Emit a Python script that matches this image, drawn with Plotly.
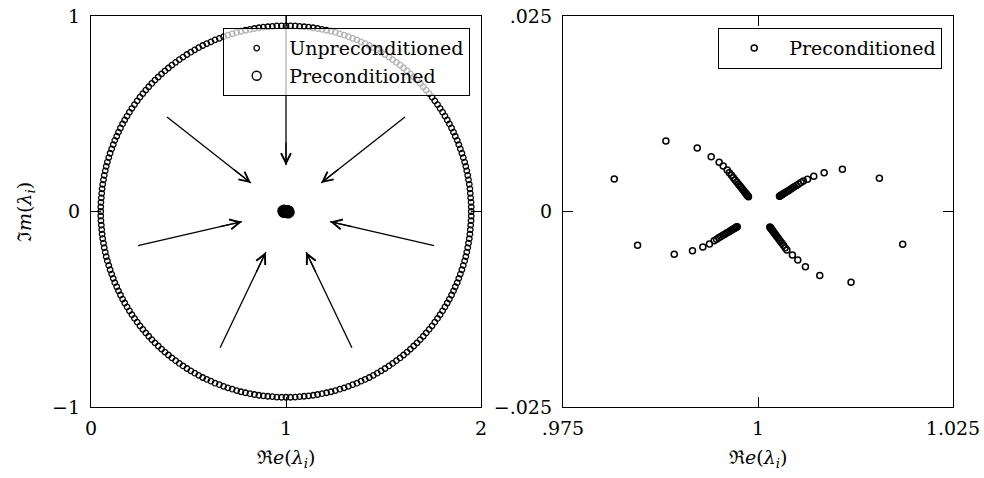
import math
import plotly.graph_objects as go

# ---------------------------------------------------------------------------
# Spectrum of the unpreconditioned operator (real / imaginary parts)
# ---------------------------------------------------------------------------
unpre_re = [
    1.950, 1.950, 1.949, 1.947, 1.945, 1.943, 1.940, 1.936, 1.932, 1.927,
    1.922, 1.916, 1.909, 1.902, 1.894, 1.886, 1.878, 1.868, 1.859, 1.849,
    1.838, 1.827, 1.815, 1.803, 1.790, 1.777, 1.763, 1.749, 1.734, 1.719,
    1.704, 1.688, 1.672, 1.655, 1.638, 1.621, 1.603, 1.585, 1.566, 1.547,
    1.528, 1.508, 1.488, 1.468, 1.448, 1.427, 1.406, 1.385, 1.364, 1.342,
    1.320, 1.298, 1.276, 1.253, 1.231, 1.208, 1.185, 1.162, 1.139, 1.116,
    1.093, 1.070, 1.047, 1.023, 1.000,
    0.977, 0.953, 0.930, 0.907, 0.884, 0.861, 0.838, 0.815, 0.792, 0.769,
    0.747, 0.724, 0.702, 0.680, 0.658, 0.636, 0.615, 0.594, 0.573, 0.552,
    0.532, 0.512, 0.492, 0.472, 0.453, 0.434, 0.415, 0.397, 0.379, 0.362,
    0.345, 0.328, 0.312, 0.296, 0.281, 0.266, 0.251, 0.237, 0.223, 0.210,
    0.197, 0.185, 0.173, 0.162, 0.151, 0.141, 0.132, 0.122, 0.114, 0.106,
    0.098, 0.091, 0.084, 0.078, 0.073, 0.068, 0.064, 0.060, 0.057, 0.055,
    0.053, 0.051, 0.050, 0.050,
    0.050, 0.051, 0.053, 0.055, 0.057, 0.060, 0.064, 0.068, 0.073, 0.078,
    0.084, 0.091, 0.098, 0.106, 0.114, 0.122, 0.132, 0.141, 0.151, 0.162,
    0.173, 0.185, 0.197, 0.210, 0.223, 0.237, 0.251, 0.266, 0.281, 0.296,
    0.312, 0.328, 0.345, 0.362, 0.379, 0.397, 0.415, 0.434, 0.453, 0.472,
    0.492, 0.512, 0.532, 0.552, 0.573, 0.594, 0.615, 0.636, 0.658, 0.680,
    0.702, 0.724, 0.747, 0.769, 0.792, 0.815, 0.838, 0.861, 0.884, 0.907,
    0.930, 0.953, 0.977, 1.000,
    1.023, 1.047, 1.070, 1.093, 1.116, 1.139, 1.162, 1.185, 1.208, 1.231,
    1.253, 1.276, 1.298, 1.320, 1.342, 1.364, 1.385, 1.406, 1.427, 1.448,
    1.468, 1.488, 1.508, 1.528, 1.547, 1.566, 1.585, 1.603, 1.621, 1.638,
    1.655, 1.672, 1.688, 1.704, 1.719, 1.734, 1.749, 1.763, 1.777, 1.790,
    1.803, 1.815, 1.827, 1.838, 1.849, 1.859, 1.868, 1.878, 1.886, 1.894,
    1.902, 1.909, 1.916, 1.922, 1.927, 1.932, 1.936, 1.940, 1.943, 1.945,
    1.947, 1.949, 1.950,
]
unpre_im = [
    0.000, 0.023, 0.047, 0.070, 0.093, 0.116, 0.139, 0.162, 0.185, 0.208,
    0.231, 0.253, 0.276, 0.298, 0.320, 0.342, 0.364, 0.385, 0.406, 0.427,
    0.448, 0.468, 0.488, 0.508, 0.528, 0.547, 0.566, 0.585, 0.603, 0.621,
    0.638, 0.655, 0.672, 0.688, 0.704, 0.719, 0.734, 0.749, 0.763, 0.777,
    0.790, 0.803, 0.815, 0.827, 0.838, 0.849, 0.859, 0.868, 0.878, 0.886,
    0.894, 0.902, 0.909, 0.916, 0.922, 0.927, 0.932, 0.936, 0.940, 0.943,
    0.945, 0.947, 0.949, 0.950, 0.950,
    0.950, 0.949, 0.947, 0.945, 0.943, 0.940, 0.936, 0.932, 0.927, 0.922,
    0.916, 0.909, 0.902, 0.894, 0.886, 0.878, 0.868, 0.859, 0.849, 0.838,
    0.827, 0.815, 0.803, 0.790, 0.777, 0.763, 0.749, 0.734, 0.719, 0.704,
    0.688, 0.672, 0.655, 0.638, 0.621, 0.603, 0.585, 0.566, 0.547, 0.528,
    0.508, 0.488, 0.468, 0.448, 0.427, 0.406, 0.385, 0.364, 0.342, 0.320,
    0.298, 0.276, 0.253, 0.231, 0.208, 0.185, 0.162, 0.139, 0.116, 0.093,
    0.070, 0.047, 0.023, 0.000,
    -0.023, -0.047, -0.070, -0.093, -0.116, -0.139, -0.162, -0.185, -0.208, -0.231,
    -0.253, -0.276, -0.298, -0.320, -0.342, -0.364, -0.385, -0.406, -0.427, -0.448,
    -0.468, -0.488, -0.508, -0.528, -0.547, -0.566, -0.585, -0.603, -0.621, -0.638,
    -0.655, -0.672, -0.688, -0.704, -0.719, -0.734, -0.749, -0.763, -0.777, -0.790,
    -0.803, -0.815, -0.827, -0.838, -0.849, -0.859, -0.868, -0.878, -0.886, -0.894,
    -0.902, -0.909, -0.916, -0.922, -0.927, -0.932, -0.936, -0.940, -0.943, -0.945,
    -0.947, -0.949, -0.950, -0.950,
    -0.950, -0.949, -0.947, -0.945, -0.943, -0.940, -0.936, -0.932, -0.927, -0.922,
    -0.916, -0.909, -0.902, -0.894, -0.886, -0.878, -0.868, -0.859, -0.849, -0.838,
    -0.827, -0.815, -0.803, -0.790, -0.777, -0.763, -0.749, -0.734, -0.719, -0.704,
    -0.688, -0.672, -0.655, -0.638, -0.621, -0.603, -0.585, -0.566, -0.547, -0.528,
    -0.508, -0.488, -0.468, -0.448, -0.427, -0.406, -0.385, -0.364, -0.342, -0.320,
    -0.298, -0.276, -0.253, -0.231, -0.208, -0.185, -0.162, -0.139, -0.116, -0.093,
    -0.070, -0.047, -0.023,
]

# ---------------------------------------------------------------------------
# Spectrum of the preconditioned operator (four branches around 1)
# ---------------------------------------------------------------------------
pre_re = [
    # upper-left branch
    0.98157, 0.98819, 0.99221, 0.99400, 0.99502, 0.99554, 0.99605, 0.99632,
    0.99660, 0.99684, 0.99706, 0.99728, 0.99747, 0.99766, 0.99782, 0.99799,
    0.99812, 0.99826, 0.99837, 0.99848, 0.99856, 0.99864, 0.99871, 0.99878,
    # upper-right branch
    1.01556, 1.01082, 1.00848, 1.00715, 1.00634, 1.00582, 1.00551, 1.00521,
    1.00493, 1.00465, 1.00441, 1.00416, 1.00395, 1.00373, 1.00355, 1.00336,
    1.00321, 1.00309, 1.00297, 1.00287, 1.00281, 1.00275,
    # lower-left branch
    0.98456, 0.98926, 0.99160, 0.99293, 0.99378, 0.99438, 0.99468, 0.99497,
    0.99524, 0.99550, 0.99574, 0.99597, 0.99618, 0.99639, 0.99656, 0.99674,
    0.99689, 0.99701, 0.99712, 0.99721, 0.99727, 0.99733,
    # lower-right branch
    1.01855, 1.01193, 1.00792, 1.00608, 1.00510, 1.00441, 1.00370, 1.00348,
    1.00326, 1.00307, 1.00289, 1.00272, 1.00257, 1.00241, 1.00228, 1.00215,
    1.00204, 1.00193, 1.00185, 1.00176, 1.00169, 1.00163, 1.00157, 1.00152,
]
pre_im = [
    0.00416, 0.00902, 0.00812, 0.00700, 0.00629, 0.00582, 0.00531, 0.00497,
    0.00463, 0.00432, 0.00404, 0.00377, 0.00353, 0.00329, 0.00309, 0.00288,
    0.00271, 0.00254, 0.00240, 0.00227, 0.00216, 0.00206, 0.00198, 0.00189,
    0.00424, 0.00540, 0.00496, 0.00450, 0.00412, 0.00390, 0.00370, 0.00351,
    0.00333, 0.00316, 0.00300, 0.00284, 0.00270, 0.00257, 0.00245, 0.00233,
    0.00223, 0.00216, 0.00208, 0.00202, 0.00198, 0.00194,
    -0.00433, -0.00548, -0.00501, -0.00454, -0.00416, -0.00373, -0.00355, -0.00337,
    -0.00321, -0.00305, -0.00291, -0.00276, -0.00264, -0.00251, -0.00241, -0.00230,
    -0.00221, -0.00214, -0.00207, -0.00201, -0.00198, -0.00194,
    -0.00420, -0.00906, -0.00817, -0.00705, -0.00620, -0.00556, -0.00492, -0.00463,
    -0.00433, -0.00407, -0.00383, -0.00360, -0.00339, -0.00319, -0.00301, -0.00283,
    -0.00269, -0.00254, -0.00242, -0.00230, -0.00222, -0.00213, -0.00205, -0.00198,
]

assert len(unpre_re) == len(unpre_im)
assert len(pre_re) == len(pre_im)

# Arrows showing the eigenvalues being pulled towards 1 (tail -> head)
arrow_tail_re = [1.0, 0.39, 1.61, 0.241, 1.759, 0.662, 1.338]
arrow_tail_im = [1.0, 0.483, 0.483, -0.175, -0.175, -0.697, -0.697]
arrow_head_re = [1.0, 0.82, 1.18, 0.774, 1.226, 0.897, 1.103]
arrow_head_im = [0.237, 0.146, 0.146, -0.052, -0.052, -0.207, -0.207]

# Tick positions and labels
left_x_ticks = [0, 1, 2]
left_x_labels = ["0", "1", "2"]
left_y_ticks = [-1, 0, 1]
left_y_labels = ["\u22121", "0", "1"]
right_x_ticks = [0.975, 1.0, 1.025]
right_x_labels = [".975", "1", "1.025"]
right_y_ticks = [-0.025, 0.0, 0.025]
right_y_labels = ["\u2212.025", "0", ".025"]

FONT = "DejaVu Serif"
FS = 19
W, H = 984, 478

# plot-area geometry in pixels (both panels are square and share the height)
LEFT_X0, LEFT_X1 = 91, 481
RIGHT_X0, RIGHT_X1 = 563, 953
TOP, BOTTOM = 16, 407

fig = go.Figure()

fig.add_trace(go.Scatter(
    x=unpre_re, y=unpre_im, mode="markers", name="Unpreconditioned",
    marker=dict(symbol="circle-open", size=5.5, color="black", line=dict(width=1.3)),
    xaxis="x", yaxis="y", legend="legend", cliponaxis=False,
))
fig.add_trace(go.Scatter(
    x=pre_re, y=pre_im, mode="markers", name="Preconditioned",
    marker=dict(symbol="circle-open", size=9, color="black", line=dict(width=1.4)),
    xaxis="x", yaxis="y", legend="legend",
))
fig.add_trace(go.Scatter(
    x=pre_re, y=pre_im, mode="markers", name="Preconditioned",
    marker=dict(symbol="circle-open", size=6, color="black", line=dict(width=1.5)),
    xaxis="x2", yaxis="y2", legend="legend2",
))

axis_style = dict(
    showline=True, linecolor="black", linewidth=1.3, mirror="ticks",
    ticks="inside", ticklen=10, tickwidth=1.3, tickcolor="black",
    showgrid=False, zeroline=False, automargin=False,
    tickfont=dict(family=FONT, size=FS, color="black"),
)

y_dom = [(H - BOTTOM) / H, (H - TOP) / H]

fig.update_layout(
    width=W, height=H,
    margin=dict(l=0, r=0, t=0, b=0),
    paper_bgcolor="white", plot_bgcolor="white",
    font=dict(family=FONT, size=FS, color="black"),
    xaxis=dict(domain=[LEFT_X0 / W, LEFT_X1 / W], range=[0, 2], anchor="y",
               tickvals=left_x_ticks, ticktext=left_x_labels,
               ticklabelstandoff=4, **axis_style),
    yaxis=dict(domain=y_dom, range=[-1, 1], anchor="x",
               tickvals=left_y_ticks, ticktext=left_y_labels,
               ticklabelstandoff=6, **axis_style),
    xaxis2=dict(domain=[RIGHT_X0 / W, RIGHT_X1 / W], range=[0.975, 1.025], anchor="y2",
                tickvals=right_x_ticks, ticktext=right_x_labels,
                ticklabelstandoff=4, **axis_style),
    yaxis2=dict(domain=y_dom, range=[-0.025, 0.025], anchor="x2",
                tickvals=right_y_ticks, ticktext=right_y_labels,
                ticklabelstandoff=6, **axis_style),
    legend=dict(
        x=470 / W, xanchor="right", y=(H - 28) / H, yanchor="top",
        bgcolor="rgba(255,255,255,0.7)", bordercolor="black", borderwidth=1.2,
        font=dict(family=FONT, size=FS, color="black"),
        itemwidth=55, tracegroupgap=0,
    ),
    legend2=dict(
        x=942 / W, xanchor="right", y=(H - 28) / H, yanchor="top",
        bgcolor="rgba(255,255,255,0.7)", bordercolor="black", borderwidth=1.2,
        font=dict(family=FONT, size=FS, color="black"),
        itemwidth=60,
    ),
    showlegend=True,
)

# Arrow shafts are drawn as line shapes (so the legend box sits over them);
# the open arrowheads come from annotation arrows laid along the last part
# of each shaft.
px_per_x = (LEFT_X1 - LEFT_X0) / 2.0
px_per_y = (BOTTOM - TOP) / 2.0
HEAD_SEG = 24  # pixels of shaft covered by the annotation arrow
shapes = []
annotations = []
for tx, ty, hx, hy in zip(arrow_tail_re, arrow_tail_im, arrow_head_re, arrow_head_im):
    shapes.append(dict(
        type="line", xref="x", yref="y", x0=tx, y0=ty, x1=hx, y1=hy,
        line=dict(color="black", width=1.3), layer="above",
    ))
    dx = (tx - hx) * px_per_x
    dy = -(ty - hy) * px_per_y
    n = math.hypot(dx, dy)
    annotations.append(dict(
        x=hx, y=hy, xref="x", yref="y", ax=dx / n * HEAD_SEG, ay=dy / n * HEAD_SEG,
        text="", showarrow=True, arrowhead=5, arrowsize=1.5, arrowwidth=1.3,
        arrowcolor="black", standoff=0, startstandoff=0,
    ))

re_title = "\u211C<i>e</i>(<i>\u03BB<sub>i</sub></i>)"
im_title = "\u2111<i>m</i>(<i>\u03BB<sub>i</sub></i>)"
annotations += [
    dict(text=re_title, x=286 / W, y=(H - 458) / H, xref="paper", yref="paper",
         showarrow=False, xanchor="center", yanchor="middle",
         font=dict(family=FONT, size=FS, color="black")),
    dict(text=re_title, x=758 / W, y=(H - 458) / H, xref="paper", yref="paper",
         showarrow=False, xanchor="center", yanchor="middle",
         font=dict(family=FONT, size=FS, color="black")),
    dict(text=im_title, x=25 / W, y=(H - 212) / H, xref="paper", yref="paper",
         showarrow=False, xanchor="center", yanchor="middle", textangle=-90,
         font=dict(family=FONT, size=FS, color="black")),
]
fig.update_layout(shapes=shapes, annotations=annotations)

fig.write_html("out.html")
